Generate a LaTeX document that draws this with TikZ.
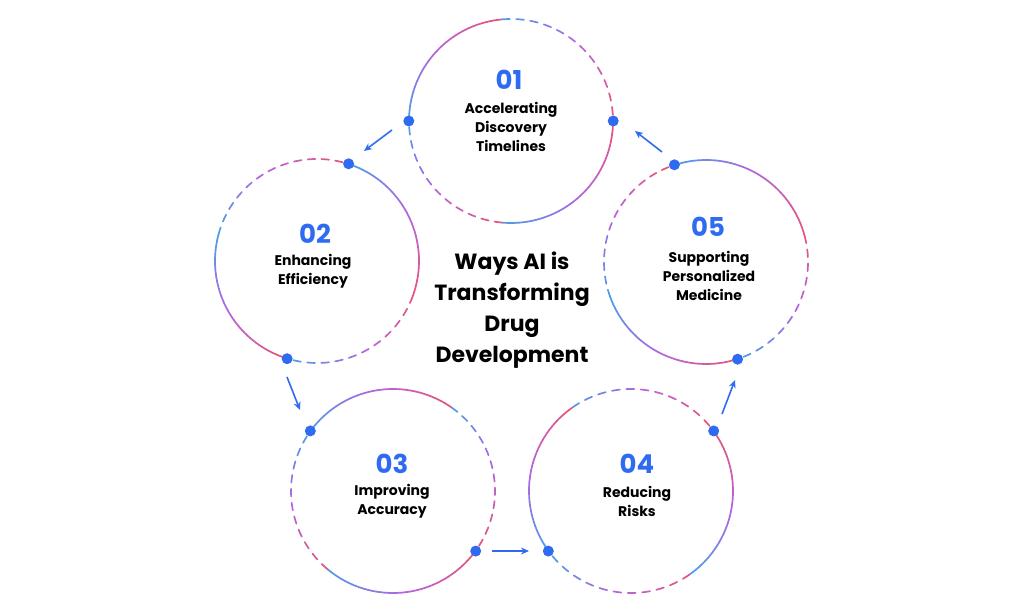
\documentclass[tikz,border=0pt]{standalone}
\usepackage{fontspec}
\setmainfont{Poppins}
\usetikzlibrary{arrows.meta}
\definecolor{gb}{HTML}{4A9FE8}
\definecolor{gp}{HTML}{B565E0}
\definecolor{gk}{HTML}{E8557A}
\definecolor{dotc}{HTML}{2F6BF0}
\definecolor{numc}{HTML}{2F6BF0}
\newcommand\gseg[6]{%
 \pgfmathsetmacro\spanang{abs(#4-#3)}%
 \ifnum#6=1 \def\nn{40}\def\gapf{0}\else\pgfmathtruncatemacro\nn{round(\spanang*1.78/14)}\def\gapf{0.45}\fi
 \foreach \k in {1,...,\nn}{%
   \pgfmathsetmacro\tq{(\k-0.5)/\nn}%
   \ifnum#5=0 \edef\tc{\tq}\else\pgfmathsetmacro\tc{1-\tq}\fi
   \pgfmathsetmacro\sa{#3+(#4-#3)*(\k-1)/\nn}%
   \pgfmathsetmacro\ea{#3+(#4-#3)*(\k-\gapf)/\nn}%
   \ifdim\tc pt<0.5pt
     \pgfmathtruncatemacro\pa{100-200*\tc}\colorlet{cc}{gb!\pa!gp}%
   \else
     \pgfmathtruncatemacro\pa{200-200*\tc}\colorlet{cc}{gp!\pa!gk}%
   \fi
   \draw[cc, line width=1.7pt, line cap=round] (#1pt,#2pt) ++(\sa:102pt) arc[start angle=\sa, end angle=\ea, radius=102pt];
 }}
\tikzset{
  dot/.style={circle, fill=dotc, inner sep=0pt, minimum size=11pt},
  num/.style={font=\fontsize{26}{28}\selectfont\bfseries, text=numc},
  lbl/.style={font=\fontsize{14}{19}\selectfont\bfseries, align=center, text=black},
  arr/.style={draw=dotc, line width=1.6pt, -{Stealth[length=8pt,width=7pt]}},
  ring/.style={circle, minimum size=204pt, inner sep=0pt}
}
\begin{document}
\begin{tikzpicture}[x=1pt,y=1pt]
\useasboundingbox (0,0) rectangle (1024,612);
% rings
\node[ring] (c1) at (511,491) {};
\node[ring] (c2) at (317,351) {};
\node[ring] (c3) at (393,121) {};
\node[ring] (c4) at (631,121) {};
\node[ring] (c5) at (706,350) {};
\gseg{511}{491}{180}{95}{0}{1}\gseg{511}{491}{95}{0}{0}{0}\gseg{511}{491}{0}{-95}{1}{1}\gseg{511}{491}{-95}{-180}{1}{0}
\gseg{317}{351}{72}{-20}{0}{1}\gseg{317}{351}{-20}{-107}{1}{0}\gseg{317}{351}{253}{165}{1}{1}\gseg{317}{351}{165}{72}{0}{0}
\gseg{393}{121}{144}{55}{0}{1}\gseg{393}{121}{55}{-36}{0}{0}\gseg{393}{121}{-36}{-130}{1}{1}\gseg{393}{121}{-130}{-216}{1}{0}
\gseg{631}{121}{36}{-55}{1}{1}\gseg{631}{121}{-55}{-144}{1}{0}\gseg{631}{121}{216}{125}{0}{1}\gseg{631}{121}{125}{36}{0}{0}
\gseg{706}{350}{108}{15}{0}{1}\gseg{706}{350}{15}{-72}{1}{0}\gseg{706}{350}{-72}{-160}{1}{1}\gseg{706}{350}{-160}{-252}{0}{0}
% dots
\node[dot] (d1a) at (c1.180) {}; \node[dot] (d1b) at (c1.0) {};
\node[dot] (d2a) at (c2.72) {};  \node[dot] (d2b) at (c2.253) {};
\node[dot] (d3a) at (c3.144) {}; \node[dot] (d3b) at (c3.-36) {};
\node[dot] (d4a) at (c4.216) {}; \node[dot] (d4b) at (c4.36) {};
\node[dot] (d5a) at (c5.108) {}; \node[dot] (d5b) at (c5.-72) {};
% arrows
\coordinate (a1s) at (392,482); \coordinate (a1e) at (364,461);
\coordinate (a2s) at (287,235); \coordinate (a2e) at (300,202);
\coordinate (a3s) at (492,61);  \coordinate (a3e) at (529,61);
\coordinate (a4s) at (722,198); \coordinate (a4e) at (735,232);
\coordinate (a5s) at (662,460); \coordinate (a5e) at (635,481);
\draw[arr] (a1s) -- (a1e);
\draw[arr] (a2s) -- (a2e);
\draw[arr] (a3s) -- (a3e);
\draw[arr] (a4s) -- (a4e);
\draw[arr] (a5s) -- (a5e);
% texts
\node[num] (n1) at (509,532) {01};
\node[lbl] (l1) at (511,485) {Accelerating\\Discovery\\Timelines};
\node[num] (n2) at (315,378) {02};
\node[lbl] (l2) at (313,341) {Enhancing\\Efficiency};
\node[num] (n3) at (392,148) {03};
\node[lbl] (l3) at (392,111) {Improving\\Accuracy};
\node[num] (n4) at (637,148) {04};
\node[lbl] (l4) at (637,111) {Reducing\\Risks};
\node[num] (n5) at (708,385) {05};
\node[lbl] (l5) at (709,336) {Supporting\\Personalized\\Medicine};
\node[font=\fontsize{22}{31}\selectfont\bfseries, align=center] (title) at (512,302) {Ways AI is\\Transforming\\Drug\\Development};
\end{tikzpicture}
\end{document}
